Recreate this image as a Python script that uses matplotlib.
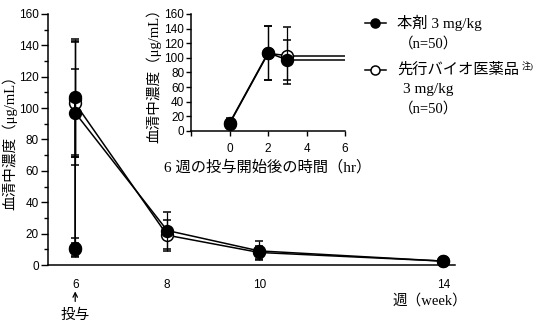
import matplotlib.pyplot as plt
from matplotlib.ticker import MultipleLocator

plt.rcParams['font.family'] = ['Liberation Sans', 'Noto Sans CJK JP']
jp = ['Liberation Serif', 'Noto Sans CJK JP']

# main chart: weeks (pre-dose, 2hr, 3hr at week 6, then later weeks)
weeks = [6, 6, 6, 8, 10, 14]
drug = [11, 107, 97, 22, 9, 2.5]
drug_sd = [6, 37, 28, 12, 6, 1]
ref = [10, 106, 103, 19, 8, 2.5]
ref_sd = [4, 37, 39, 10, 4, 1]

# inset: hours after the week-6 dose
hours = [0, 2, 3]
drug_hr = drug[:3]
drug_hr_sd = drug_sd[:3]
ref_hr = ref[:3]
ref_hr_sd = ref_sd[:3]

fig = plt.figure(figsize=(5.4, 3.24), dpi=100)
ax = fig.add_axes([0.089, 0.182, 0.754, 0.775])

def draw(a, x, y, e, ms, face, z):
    a.errorbar(x, y, yerr=e, color="black", lw=1.1, marker="o", ms=ms,
               mfc=face, mec="black", mew=1.1, capsize=3, elinewidth=0.9,
               capthick=0.9, zorder=z, clip_on=False)

draw(ax, weeks, ref, ref_sd, 8.5, "white", 3)
draw(ax, weeks, drug, drug_sd, 8.5, "black", 4)

ax.set_xlim(5.41, 14.26)
ax.set_ylim(0, 160)
ax.set_xticks([6, 8, 10, 14])
ax.yaxis.set_major_locator(MultipleLocator(20))
ax.yaxis.set_minor_locator(MultipleLocator(10))
ax.tick_params(labelsize=8.5, length=5, width=1, pad=1.5)
ax.tick_params(axis='x', length=0, pad=10)
ax.tick_params(which='minor', length=3, width=1)
for s in ["top", "right"]:
    ax.spines[s].set_visible(False)
for s in ["left", "bottom"]:
    ax.spines[s].set_linewidth(1.1)
ax.set_ylabel("血清中濃度（μg/mL）", family=jp, fontsize=10.5, labelpad=1)

# dosing arrow under week 6
ax.annotate("", xy=(6, -0.105), xytext=(6, -0.145), xycoords=("data", "axes fraction"),
            textcoords=("data", "axes fraction"),
            arrowprops=dict(arrowstyle="->", color="black", lw=0.9,
                            shrinkA=0, shrinkB=0, mutation_scale=8))
fig.text(75 / 540, 1 - 315 / 324, "投与", family=jp, fontsize=10.5, ha="center", va="center")
fig.text(430 / 540, 1 - 301 / 324, "週（week）", family=jp, fontsize=10.5, ha="center", va="center")

# inset
ins = fig.add_axes([0.354, 0.596, 0.285, 0.361])
draw(ins, hours, ref_hr, ref_hr_sd, 8.5, "white", 3)
draw(ins, hours, drug_hr, drug_hr_sd, 8.5, "black", 4)
ins.plot([3, 6], [ref_hr[-1]] * 2, color="black", lw=1.1, zorder=2)
ins.plot([3, 6], [drug_hr[-1]] * 2, color="black", lw=1.1, zorder=2)
ins.set_xlim(-2, 6)
ins.set_ylim(0, 160)
ins.set_xticks([-2, 0, 2, 4, 6], ["", "0", "2", "4", "6"])
ins.yaxis.set_major_locator(MultipleLocator(20))
ins.tick_params(labelsize=8.5, length=3.5, width=1, pad=1.5)
ins.tick_params(axis='x', pad=5)
for s in ["top", "right"]:
    ins.spines[s].set_visible(False)
for s in ["left", "bottom"]:
    ins.spines[s].set_linewidth(1.1)
ins.set_ylabel("血清中濃度（μg/mL）", family=jp, fontsize=10.5, labelpad=2)
ins.set_xlabel("6 週の投与開始後の時間（hr）", family=jp, fontsize=11, labelpad=4)

# legend
for yy, face in [(23, "black"), (70, "white")]:
    fig.lines.append(plt.Line2D([365 / 540, 386 / 540], [1 - yy / 324] * 2,
                                transform=fig.transFigure, color="black", lw=1.1))
    fig.lines.append(plt.Line2D([375 / 540], [1 - yy / 324], transform=fig.transFigure,
                                marker="o", ms=6.5, mfc=face, mec="black", mew=1.1,
                                color="black"))
fig.text(397 / 540, 1 - 23 / 324, "本剤 3 mg/kg", family=jp, fontsize=11, va="center")
fig.text(399 / 540, 1 - 44 / 324, "（n=50）", family=jp, fontsize=10.5, va="center")
fig.text(397 / 540, 1 - 70 / 324, "先行バイオ医薬品", family=jp, fontsize=11, va="center")
fig.text(522 / 540, 1 - 66 / 324, "注)", family=jp, fontsize=6.5, va="center")
fig.text(403 / 540, 1 - 89 / 324, "3 mg/kg", family=jp, fontsize=11, va="center")
fig.text(399 / 540, 1 - 109 / 324, "（n=50）", family=jp, fontsize=10.5, va="center")

fig.savefig("out.png", dpi=100)
